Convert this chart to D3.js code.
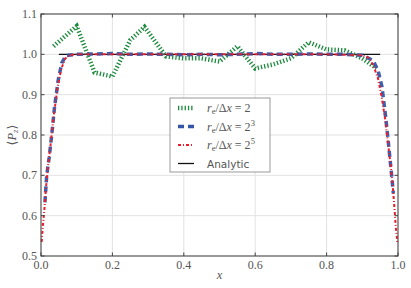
<!DOCTYPE html>
<html>
<head>
<script src="https://cdn.jsdelivr.net/npm/d3@7/dist/d3.min.js"></script>
<style>
  body { margin: 0; background: #fff; }
  svg { display: block; }
</style>
</head>
<body>
<script>
var w = 411, h = 288;
var m = {left: 41, right: 13, top: 14, bottom: 32};

// r_e/dx = 2
var greenX = [0.035, 0.1, 0.15, 0.2, 0.25, 0.29, 0.35, 0.4, 0.45, 0.5, 0.55, 0.6, 0.65, 0.7, 0.75, 0.8, 0.85, 0.9, 0.94];
var greenY = [1.02, 1.07, 0.955, 0.945, 1.035, 1.068, 0.995, 0.99, 0.99, 0.982, 1.02, 0.965, 0.975, 0.99, 1.03, 1.012, 1.01, 0.99, 0.965];

// r_e/dx = 2^3
var blueX = [0.011, 0.016, 0.023, 0.03, 0.038, 0.048, 0.058, 0.07, 0.1, 0.15, 0.2, 0.25, 0.3, 0.35, 0.4, 0.45, 0.5, 0.55, 0.6, 0.65, 0.7, 0.75, 0.8, 0.85, 0.9, 0.93, 0.944, 0.955, 0.964, 0.972, 0.98, 0.987];
var blueY = [0.633, 0.70, 0.745, 0.80, 0.87, 0.935, 0.978, 0.997, 1.0, 1.001, 1.002, 1.0, 1.001, 1.0, 0.999, 1.0, 0.999, 1.0, 1.002, 1.0, 1.0, 1.001, 1.0, 1.0, 0.998, 0.985, 0.96, 0.92, 0.856, 0.79, 0.72, 0.655];

// r_e/dx = 2^5
var redX = [0.002, 0.005, 0.009, 0.014, 0.02, 0.028, 0.036, 0.046, 0.056, 0.068, 0.08, 0.1, 0.2, 0.3, 0.4, 0.5, 0.6, 0.7, 0.8, 0.9, 0.92, 0.932, 0.944, 0.954, 0.964, 0.972, 0.98, 0.986, 0.99, 0.994, 0.998];
var redY = [0.535, 0.573, 0.61, 0.67, 0.725, 0.785, 0.85, 0.915, 0.962, 0.99, 0.998, 1.0, 1.0, 1.0, 1.0, 1.0, 1.0, 1.0, 1.0, 0.998, 0.99, 0.97, 0.94, 0.895, 0.84, 0.78, 0.72, 0.665, 0.62, 0.57, 0.535];

// analytic
var anaX = [0.05, 0.95];
var anaY = [1.0, 1.0];

var xTicks = [0, 0.2, 0.4, 0.6, 0.8, 1.0];
var yTicks = [0.5, 0.6, 0.7, 0.8, 0.9, 1.0, 1.1];

var serif = "'Liberation Serif', 'DejaVu Serif', serif";

var svg = d3.select("body").append("svg")
    .attr("width", w).attr("height", h);

var x = d3.scaleLinear().domain([0, 1]).range([m.left, w - m.right]);
var y = d3.scaleLinear().domain([0.5, 1.1]).range([h - m.bottom, m.top]);

//grid
svg.append("g").selectAll("line").data(xTicks.slice(1, -1)).enter().append("line")
    .attr("x1", d => x(d)).attr("x2", d => x(d))
    .attr("y1", y(0.5)).attr("y2", y(1.1))
    .attr("stroke", "#e2e2e2").attr("stroke-width", 1);
svg.append("g").selectAll("line").data(yTicks.slice(1, -1)).enter().append("line")
    .attr("x1", x(0)).attr("x2", x(1))
    .attr("y1", d => y(d)).attr("y2", d => y(d))
    .attr("stroke", "#e2e2e2").attr("stroke-width", 1);

//lines
function pts(xs, ys) { return xs.map((v, i) => [v, ys[i]]); }
var line = d3.line().x(d => x(d[0])).y(d => y(d[1]));

var plot = svg.append("g");
plot.append("path").datum(pts(anaX, anaY)).attr("d", line)
    .attr("fill", "none").attr("stroke", "#111").attr("stroke-width", 1.3);
plot.append("path").datum(pts(greenX, greenY)).attr("d", line)
    .attr("fill", "none").attr("stroke", "#1b8a3c").attr("stroke-width", 4.5)
    .attr("stroke-dasharray", "1.3,2");
plot.append("path").datum(pts(blueX, blueY)).attr("d", line)
    .attr("fill", "none").attr("stroke", "#3556a8").attr("stroke-width", 3.5)
    .attr("stroke-dasharray", "6,4").attr("opacity", 0.95);
plot.append("path").datum(pts(redX, redY)).attr("d", line)
    .attr("fill", "none").attr("stroke", "#ee1c2a").attr("stroke-width", 2)
    .attr("stroke-dasharray", "3,2,1,2");

//axes
var ax = svg.append("g").attr("font-family", serif).attr("font-size", 12).attr("fill", "#555");
ax.append("rect").attr("x", x(0)).attr("y", y(1.1))
    .attr("width", x(1) - x(0)).attr("height", y(0.5) - y(1.1))
    .attr("fill", "none").attr("stroke", "#444").attr("stroke-width", 1.1);

xTicks.forEach(function (t) {
    ax.append("line").attr("x1", x(t)).attr("x2", x(t)).attr("y1", y(0.5)).attr("y2", y(0.5) - 3.5).attr("stroke", "#444");
    ax.append("line").attr("x1", x(t)).attr("x2", x(t)).attr("y1", y(1.1)).attr("y2", y(1.1) + 3.5).attr("stroke", "#444");
    ax.append("text").attr("x", x(t)).attr("y", y(0.5) + 13).attr("text-anchor", "middle").text(d3.format(".1f")(t));
});
yTicks.forEach(function (t) {
    ax.append("line").attr("x1", x(0)).attr("x2", x(0) + 3.5).attr("y1", y(t)).attr("y2", y(t)).attr("stroke", "#444");
    ax.append("line").attr("x1", x(1)).attr("x2", x(1) - 3.5).attr("y1", y(t)).attr("y2", y(t)).attr("stroke", "#444");
    ax.append("text").attr("x", x(0) - 4).attr("y", y(t) + 4).attr("text-anchor", "end").text(d3.format(".1f")(t));
});

ax.append("text").attr("x", (x(0) + x(1)) / 2).attr("y", 279).attr("text-anchor", "middle")
    .attr("font-style", "italic").attr("font-size", 12.5).text("x");

var yl = ax.append("text").attr("transform", "translate(16," + ((y(0.5) + y(1.1)) / 2) + ") rotate(-90)")
    .attr("text-anchor", "middle").attr("font-size", 12.5);
yl.append("tspan").text("⟨");
yl.append("tspan").attr("font-style", "italic").text("P");
yl.append("tspan").attr("font-style", "italic").attr("font-size", 9).attr("dy", 2).text("z");
yl.append("tspan").attr("dy", -2).text("⟩");

//legend
var lg = svg.append("g").attr("transform", "translate(170,98)");
lg.append("rect").attr("width", 100).attr("height", 74)
    .attr("fill", "#fff").attr("fill-opacity", 0.9).attr("stroke", "#999").attr("stroke-width", 1);

var entries = [
    {stroke: "#1b8a3c", sw: 4.5, dash: "1.3,2", sup: null},
    {stroke: "#3556a8", sw: 3.5, dash: "6,4", sup: "3"},
    {stroke: "#ee1c2a", sw: 2, dash: "3,2,1,2", sup: "5"},
    {stroke: "#111", sw: 1.3, dash: null, sup: null}
];
entries.forEach(function (e, i) {
    var yy = 10 + i * 18.5;
    lg.append("line").attr("x1", 8).attr("x2", 24).attr("y1", yy).attr("y2", yy)
        .attr("stroke", e.stroke).attr("stroke-width", e.sw)
        .attr("stroke-dasharray", e.dash);
    var t = lg.append("text").attr("x", 37).attr("y", yy + 4).attr("fill", "#555");
    if (i == 3) {
        t.attr("font-family", "'DejaVu Sans', sans-serif").attr("font-size", 10.5).text("Analytic");
    } else {
        t.attr("font-family", serif).attr("font-size", 12);
        t.append("tspan").attr("font-style", "italic").text("r");
        t.append("tspan").attr("font-size", 8.5).attr("dy", 2).text("e");
        t.append("tspan").attr("dy", -2).text("/Δ");
        t.append("tspan").attr("font-style", "italic").text("x");
        t.append("tspan").text(" = 2");
        if (e.sup) t.append("tspan").attr("font-size", 8.5).attr("dy", -5).text(e.sup);
    }
});
</script>
</body>
</html>
